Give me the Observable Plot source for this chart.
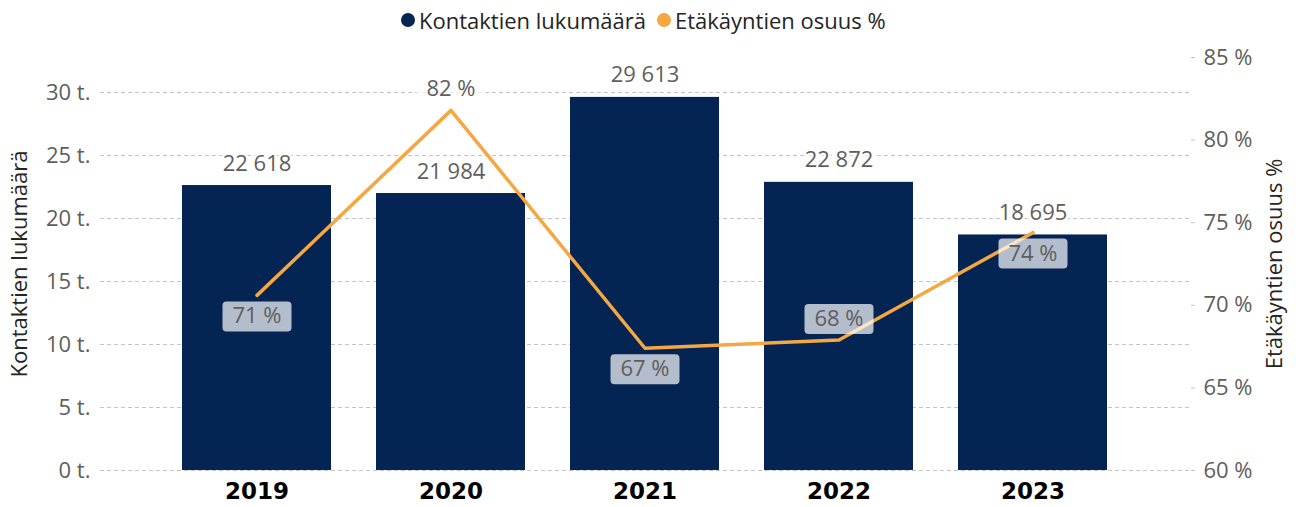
<!DOCTYPE html>
<html>
<head>
<meta charset="utf-8">
<script src="https://cdn.jsdelivr.net/npm/d3@7"></script>
<script src="https://cdn.jsdelivr.net/npm/@observablehq/plot@0.6"></script>
<style>
  html, body { margin: 0; padding: 0; background: #fff; }
  body { width: 1296px; height: 507px; overflow: hidden; font-family: "Open Sans", sans-serif; }
  #legend { height: 40px; position: relative; font-size: 22px; color: #252423; }
  #legend .item { position: absolute; top: 5px; display: flex; align-items: center; white-space: nowrap; }
  #legend .sw { width: 14px; height: 14px; border-radius: 50%; display: inline-block; margin-right: 4px; }
</style>
</head>
<body>
<div id="legend"></div>
<div id="chart"></div>
<script>
const years = ["2019", "2020", "2021", "2022", "2023"];
const contacts = [22618, 21984, 29613, 22872, 18695];
const remoteShare = [70.6, 81.8, 67.4, 67.9, 74.4];
const countTicks = [0, 5000, 10000, 15000, 20000, 25000, 30000];
const shareTicks = [60, 65, 70, 75, 80, 85];
const labelSide = ["below", "above", "below", "above", "below"];
const seriesNames = ["Kontaktien lukumäärä", "Etäkäyntien osuus %"];

const navy = "#042454";
const orange = "#F5A742";
const tickGray = "#605E5C";
const titleColor = "#252423";

const countMax = 32780;
const shareMin = 60, shareMax = 85;
const toCount = p => (p - shareMin) / (shareMax - shareMin) * countMax;
const fromCount = v => shareMin + v / countMax * (shareMax - shareMin);

const data = years.map((year, i) => ({
  year, count: contacts[i], share: remoteShare[i], side: labelSide[i]
}));

// legend
const legend = document.getElementById("legend");
const legendItems = [
  {name: seriesNames[0], color: navy, left: 401},
  {name: seriesNames[1], color: orange, left: 657}
];
for (const it of legendItems) {
  const d = document.createElement("div");
  d.className = "item";
  d.style.left = it.left + "px";
  d.innerHTML = `<span class="sw" style="background:${it.color}"></span><span>${it.name}</span>`;
  legend.appendChild(d);
}

const fmtCount = v => d3.format(",")(v).replace(/,/g, "\u00a0");

const roundBox = {
  draw(ctx) {
    const w = 69, h = 30, r = 4, x0 = -w / 2, y0 = -h / 2;
    ctx.moveTo(x0 + r, y0);
    ctx.lineTo(x0 + w - r, y0);
    ctx.arcTo(x0 + w, y0, x0 + w, y0 + r, r);
    ctx.lineTo(x0 + w, y0 + h - r);
    ctx.arcTo(x0 + w, y0 + h, x0 + w - r, y0 + h, r);
    ctx.lineTo(x0 + r, y0 + h);
    ctx.arcTo(x0, y0 + h, x0, y0 + h - r, r);
    ctx.lineTo(x0, y0 + r);
    ctx.arcTo(x0, y0, x0 + r, y0, r);
    ctx.closePath();
  }
};

const above = data.filter(d => d.side === "above");
const below = data.filter(d => d.side === "below");

const chart = Plot.plot({
  width: 1296,
  height: 467,
  marginLeft: 100,
  marginRight: 106,
  marginTop: 17,
  marginBottom: 37,
  style: {fontFamily: "Open Sans, sans-serif", background: "#fff"},
  x: {domain: years, paddingInner: 0.23, paddingOuter: 0.41},
  y: {domain: [0, countMax]},
  marks: [
    Plot.gridY(countTicks, {stroke: "#c4c4c4", strokeOpacity: 1, strokeDasharray: "4,3"}),
    Plot.barY(data, {x: "year", y: "count", fill: navy}),
    Plot.axisY(countTicks, {anchor: "left", tickSize: 0, tickPadding: 10, fontSize: 22, fill: tickGray,
      tickFormat: v => (v / 1000) + " t.", label: null}),
    Plot.axisY(shareTicks.map(toCount), {anchor: "right", tickSize: 4, tickPadding: 9, fontSize: 22,
      stroke: "#c4c4c4", fill: tickGray, tickFormat: v => Math.round(fromCount(v)) + " %", label: null}),
    Plot.axisX({tickSize: 0, tickPadding: 12, fontSize: 23, fontWeight: "bold", fontFamily: "DejaVu Sans, sans-serif", fill: "#000", label: null}),
    Plot.text([seriesNames[0]], {frameAnchor: "left", textAnchor: "middle", rotate: -90, dx: -81, fontSize: 22, fill: titleColor}),
    Plot.text([seriesNames[1]], {frameAnchor: "right", textAnchor: "middle", rotate: -90, dx: 84, fontSize: 22, fill: titleColor}),
    Plot.line(data, {x: "year", y: d => toCount(d.share), stroke: orange, strokeWidth: 3.5}),
    Plot.text(data, {x: "year", y: "count", text: d => fmtCount(d.count), dy: -22, fontSize: 22,
      fill: tickGray, stroke: "#fff", strokeWidth: 5}),
    Plot.dot(below, {x: "year", y: d => toCount(d.share), symbol: roundBox, fill: "#fff", fillOpacity: 0.7, stroke: "none", dy: 21}),
    Plot.dot(above, {x: "year", y: d => toCount(d.share), symbol: roundBox, fill: "#fff", fillOpacity: 0.7, stroke: "none", dy: -21}),
    Plot.text(below, {x: "year", y: d => toCount(d.share), text: d => Math.round(d.share) + " %", dy: 21, fontSize: 22, fill: tickGray}),
    Plot.text(above, {x: "year", y: d => toCount(d.share), text: d => Math.round(d.share) + " %", dy: -21, fontSize: 22, fill: tickGray})
  ]
});
document.getElementById("chart").appendChild(chart);
</script>
</body>
</html>
